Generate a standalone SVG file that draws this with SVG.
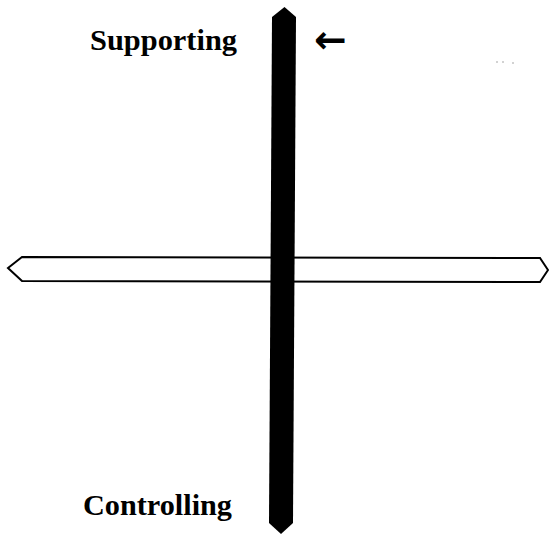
<svg xmlns="http://www.w3.org/2000/svg" width="549" height="534" viewBox="0 0 549 534">
<style>
.lbl{font-family:"Liberation Serif","Times New Roman",serif;font-weight:bold;font-size:29px;fill:#000}
.hbar{fill:#fff;stroke:#000;stroke-width:2}
.vbar{fill:#000;stroke:none}
</style>
<rect width="549" height="534" fill="#fff"/>
<g id="connectors">
<g id="horizontal-axis">
<polygon class="hbar" points="8,268 22,257 540,258 548,270 540,282 22,281"/>
</g>
<g id="vertical-axis">
<polygon class="vbar" points="284.5,7 296,17 293,523 281,534 269,523 272,17"/>
</g>
</g>
<g id="supporting">
<text class="lbl" x="90" y="50" textLength="147" lengthAdjust="spacingAndGlyphs">Supporting</text>
</g>
<g id="controlling">
<text class="lbl" x="83" y="515" textLength="149" lengthAdjust="spacingAndGlyphs">Controlling</text>
</g>
<g id="arrow">
<text x="314" y="53" font-family="DejaVu Sans, sans-serif" font-weight="bold" font-size="39" fill="#000">←</text>
</g>
<g id="specks" fill="#999">
<circle cx="497" cy="62" r="0.8"/>
<circle cx="503" cy="62" r="0.8"/>
<circle cx="513" cy="63" r="0.8"/>
</g>
</svg>
